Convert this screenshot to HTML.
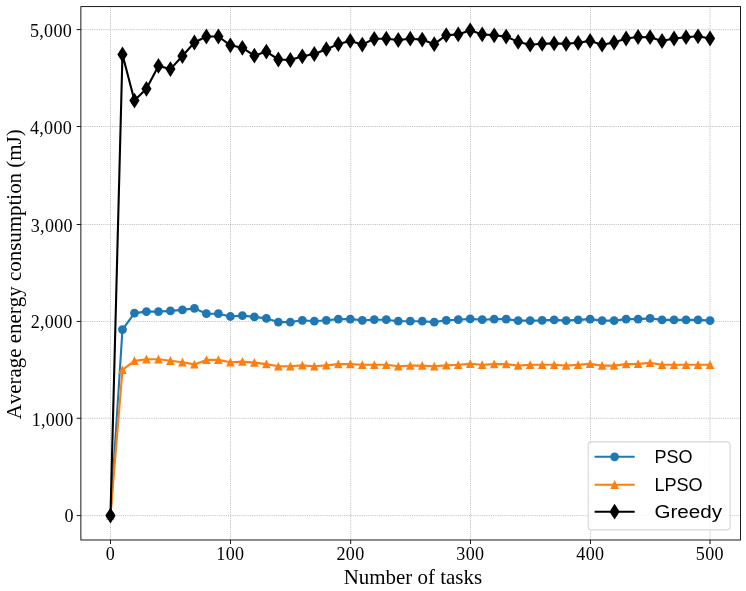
<!DOCTYPE html>
<html><head><meta charset="utf-8"><title>Average energy consumption</title>
<style>html,body{margin:0;padding:0;background:#fff}body{width:746px;height:591px;overflow:hidden;font-family:"Liberation Sans",sans-serif}svg{display:block}svg{will-change:transform}svg text{filter:grayscale(1)}</style>
</head><body>
<svg width="746" height="591" viewBox="0 0 746 591">
<rect width="746" height="591" fill="#fff"/>
<path d="M110.50 6.6V539.98M230.50 6.6V539.98M350.70 6.6V539.98M470.50 6.6V539.98M590.50 6.6V539.98M710.00 6.6V539.98M80.88 515.60H740.45M80.88 418.25H740.45M80.88 321.45H740.45M80.88 224.50H740.45M80.88 126.50H740.45M80.88 29.62H740.45" fill="none" stroke="#999" stroke-width="0.75" stroke-dasharray="0.75 1.09"/>
<clipPath id="c"><rect x="80.88" y="6.6" width="659.57" height="533.38"/></clipPath>
<g clip-path="url(#c)">
<polyline points="110.47,515.60 122.46,329.60 134.45,313.10 146.44,311.60 158.44,311.60 170.43,310.90 182.42,309.90 194.41,308.40 206.40,313.70 218.39,313.70 230.38,316.50 242.37,315.60 254.37,316.90 266.36,318.40 278.35,322.10 290.34,322.10 302.33,320.30 314.32,321.20 326.31,320.30 338.30,319.10 350.30,319.10 362.29,320.30 374.28,319.70 386.27,319.70 398.26,321.20 410.25,321.20 422.24,321.20 434.24,322.10 446.23,320.30 458.22,319.70 470.21,318.90 482.20,319.70 494.19,319.10 506.18,319.10 518.17,320.60 530.17,320.60 542.16,320.40 554.15,319.90 566.14,320.60 578.13,319.90 590.12,319.10 602.11,320.60 614.10,320.60 626.10,319.10 638.09,319.10 650.08,318.40 662.07,319.90 674.06,319.90 686.05,319.90 698.04,319.90 710.04,320.60" fill="none" stroke="#1f77b4" stroke-width="2.1" stroke-linejoin="round"/>
<g fill="#1f77b4" stroke="#1f77b4" stroke-width="0"><circle cx="110.47" cy="515.60" r="4.4"/><circle cx="122.46" cy="329.60" r="4.4"/><circle cx="134.45" cy="313.10" r="4.4"/><circle cx="146.44" cy="311.60" r="4.4"/><circle cx="158.44" cy="311.60" r="4.4"/><circle cx="170.43" cy="310.90" r="4.4"/><circle cx="182.42" cy="309.90" r="4.4"/><circle cx="194.41" cy="308.40" r="4.4"/><circle cx="206.40" cy="313.70" r="4.4"/><circle cx="218.39" cy="313.70" r="4.4"/><circle cx="230.38" cy="316.50" r="4.4"/><circle cx="242.37" cy="315.60" r="4.4"/><circle cx="254.37" cy="316.90" r="4.4"/><circle cx="266.36" cy="318.40" r="4.4"/><circle cx="278.35" cy="322.10" r="4.4"/><circle cx="290.34" cy="322.10" r="4.4"/><circle cx="302.33" cy="320.30" r="4.4"/><circle cx="314.32" cy="321.20" r="4.4"/><circle cx="326.31" cy="320.30" r="4.4"/><circle cx="338.30" cy="319.10" r="4.4"/><circle cx="350.30" cy="319.10" r="4.4"/><circle cx="362.29" cy="320.30" r="4.4"/><circle cx="374.28" cy="319.70" r="4.4"/><circle cx="386.27" cy="319.70" r="4.4"/><circle cx="398.26" cy="321.20" r="4.4"/><circle cx="410.25" cy="321.20" r="4.4"/><circle cx="422.24" cy="321.20" r="4.4"/><circle cx="434.24" cy="322.10" r="4.4"/><circle cx="446.23" cy="320.30" r="4.4"/><circle cx="458.22" cy="319.70" r="4.4"/><circle cx="470.21" cy="318.90" r="4.4"/><circle cx="482.20" cy="319.70" r="4.4"/><circle cx="494.19" cy="319.10" r="4.4"/><circle cx="506.18" cy="319.10" r="4.4"/><circle cx="518.17" cy="320.60" r="4.4"/><circle cx="530.17" cy="320.60" r="4.4"/><circle cx="542.16" cy="320.40" r="4.4"/><circle cx="554.15" cy="319.90" r="4.4"/><circle cx="566.14" cy="320.60" r="4.4"/><circle cx="578.13" cy="319.90" r="4.4"/><circle cx="590.12" cy="319.10" r="4.4"/><circle cx="602.11" cy="320.60" r="4.4"/><circle cx="614.10" cy="320.60" r="4.4"/><circle cx="626.10" cy="319.10" r="4.4"/><circle cx="638.09" cy="319.10" r="4.4"/><circle cx="650.08" cy="318.40" r="4.4"/><circle cx="662.07" cy="319.90" r="4.4"/><circle cx="674.06" cy="319.90" r="4.4"/><circle cx="686.05" cy="319.90" r="4.4"/><circle cx="698.04" cy="319.90" r="4.4"/><circle cx="710.04" cy="320.60" r="4.4"/></g>
<polyline points="110.47,515.60 122.46,369.90 134.45,360.90 146.44,359.20 158.44,359.20 170.43,360.70 182.42,362.20 194.41,364.40 206.40,359.90 218.39,359.90 230.38,362.20 242.37,361.60 254.37,362.60 266.36,364.10 278.35,366.30 290.34,366.30 302.33,365.40 314.32,366.30 326.31,365.40 338.30,364.10 350.30,364.10 362.29,364.80 374.28,364.80 386.27,364.80 398.26,366.30 410.25,365.60 422.24,365.60 434.24,366.30 446.23,365.40 458.22,364.80 470.21,363.90 482.20,364.80 494.19,364.10 506.18,364.10 518.17,365.60 530.17,364.80 542.16,364.80 554.15,364.80 566.14,365.60 578.13,364.80 590.12,363.90 602.11,365.60 614.10,365.60 626.10,364.10 638.09,363.90 650.08,362.90 662.07,364.80 674.06,364.80 686.05,364.80 698.04,364.80 710.04,364.80" fill="none" stroke="#ff7f0e" stroke-width="2.1" stroke-linejoin="round"/>
<g fill="#ff7f0e" stroke="#ff7f0e" stroke-width="0" stroke-linejoin="miter"><path d="M110.47 511.00L106.17 519.80H114.77Z"/><path d="M122.46 365.30L118.16 374.10H126.76Z"/><path d="M134.45 356.30L130.15 365.10H138.75Z"/><path d="M146.44 354.60L142.14 363.40H150.74Z"/><path d="M158.44 354.60L154.14 363.40H162.74Z"/><path d="M170.43 356.10L166.13 364.90H174.73Z"/><path d="M182.42 357.60L178.12 366.40H186.72Z"/><path d="M194.41 359.80L190.11 368.60H198.71Z"/><path d="M206.40 355.30L202.10 364.10H210.70Z"/><path d="M218.39 355.30L214.09 364.10H222.69Z"/><path d="M230.38 357.60L226.08 366.40H234.68Z"/><path d="M242.37 357.00L238.07 365.80H246.67Z"/><path d="M254.37 358.00L250.07 366.80H258.67Z"/><path d="M266.36 359.50L262.06 368.30H270.66Z"/><path d="M278.35 361.70L274.05 370.50H282.65Z"/><path d="M290.34 361.70L286.04 370.50H294.64Z"/><path d="M302.33 360.80L298.03 369.60H306.63Z"/><path d="M314.32 361.70L310.02 370.50H318.62Z"/><path d="M326.31 360.80L322.01 369.60H330.61Z"/><path d="M338.30 359.50L334.00 368.30H342.60Z"/><path d="M350.30 359.50L346.00 368.30H354.60Z"/><path d="M362.29 360.20L357.99 369.00H366.59Z"/><path d="M374.28 360.20L369.98 369.00H378.58Z"/><path d="M386.27 360.20L381.97 369.00H390.57Z"/><path d="M398.26 361.70L393.96 370.50H402.56Z"/><path d="M410.25 361.00L405.95 369.80H414.55Z"/><path d="M422.24 361.00L417.94 369.80H426.54Z"/><path d="M434.24 361.70L429.94 370.50H438.54Z"/><path d="M446.23 360.80L441.93 369.60H450.53Z"/><path d="M458.22 360.20L453.92 369.00H462.52Z"/><path d="M470.21 359.30L465.91 368.10H474.51Z"/><path d="M482.20 360.20L477.90 369.00H486.50Z"/><path d="M494.19 359.50L489.89 368.30H498.49Z"/><path d="M506.18 359.50L501.88 368.30H510.48Z"/><path d="M518.17 361.00L513.87 369.80H522.47Z"/><path d="M530.17 360.20L525.87 369.00H534.47Z"/><path d="M542.16 360.20L537.86 369.00H546.46Z"/><path d="M554.15 360.20L549.85 369.00H558.45Z"/><path d="M566.14 361.00L561.84 369.80H570.44Z"/><path d="M578.13 360.20L573.83 369.00H582.43Z"/><path d="M590.12 359.30L585.82 368.10H594.42Z"/><path d="M602.11 361.00L597.81 369.80H606.41Z"/><path d="M614.10 361.00L609.80 369.80H618.40Z"/><path d="M626.10 359.50L621.80 368.30H630.40Z"/><path d="M638.09 359.30L633.79 368.10H642.39Z"/><path d="M650.08 358.30L645.78 367.10H654.38Z"/><path d="M662.07 360.20L657.77 369.00H666.37Z"/><path d="M674.06 360.20L669.76 369.00H678.36Z"/><path d="M686.05 360.20L681.75 369.00H690.35Z"/><path d="M698.04 360.20L693.74 369.00H702.34Z"/><path d="M710.04 360.20L705.74 369.00H714.34Z"/></g>
<polyline points="110.47,515.60 122.46,54.50 134.45,100.60 146.44,88.80 158.44,65.90 170.43,69.10 182.42,56.00 194.41,42.50 206.40,36.50 218.39,36.50 230.38,45.30 242.37,47.80 254.37,55.70 266.36,51.60 278.35,59.50 290.34,60.00 302.33,56.30 314.32,54.00 326.31,49.20 338.30,44.10 350.30,40.90 362.29,44.60 374.28,38.80 386.27,38.70 398.26,40.00 410.25,38.70 422.24,39.60 434.24,44.20 446.23,35.20 458.22,34.40 470.21,30.30 482.20,34.40 494.19,35.30 506.18,36.60 518.17,41.90 530.17,44.70 542.16,43.80 554.15,43.40 566.14,43.80 578.13,42.80 590.12,40.90 602.11,44.70 614.10,42.50 626.10,38.50 638.09,37.00 650.08,37.20 662.07,41.00 674.06,38.50 686.05,37.20 698.04,36.30 710.04,38.50" fill="none" stroke="#000" stroke-width="2.1" stroke-linejoin="round"/>
<g fill="#000" stroke="#000" stroke-width="0" stroke-linejoin="miter"><path d="M110.47 507.70L115.57 515.60L110.47 523.50L105.37 515.60Z"/><path d="M122.46 46.60L127.56 54.50L122.46 62.40L117.36 54.50Z"/><path d="M134.45 92.70L139.55 100.60L134.45 108.50L129.35 100.60Z"/><path d="M146.44 80.90L151.54 88.80L146.44 96.70L141.34 88.80Z"/><path d="M158.44 58.00L163.54 65.90L158.44 73.80L153.34 65.90Z"/><path d="M170.43 61.20L175.53 69.10L170.43 77.00L165.33 69.10Z"/><path d="M182.42 48.10L187.52 56.00L182.42 63.90L177.32 56.00Z"/><path d="M194.41 34.60L199.51 42.50L194.41 50.40L189.31 42.50Z"/><path d="M206.40 28.60L211.50 36.50L206.40 44.40L201.30 36.50Z"/><path d="M218.39 28.60L223.49 36.50L218.39 44.40L213.29 36.50Z"/><path d="M230.38 37.40L235.48 45.30L230.38 53.20L225.28 45.30Z"/><path d="M242.37 39.90L247.47 47.80L242.37 55.70L237.27 47.80Z"/><path d="M254.37 47.80L259.47 55.70L254.37 63.60L249.27 55.70Z"/><path d="M266.36 43.70L271.46 51.60L266.36 59.50L261.26 51.60Z"/><path d="M278.35 51.60L283.45 59.50L278.35 67.40L273.25 59.50Z"/><path d="M290.34 52.10L295.44 60.00L290.34 67.90L285.24 60.00Z"/><path d="M302.33 48.40L307.43 56.30L302.33 64.20L297.23 56.30Z"/><path d="M314.32 46.10L319.42 54.00L314.32 61.90L309.22 54.00Z"/><path d="M326.31 41.30L331.41 49.20L326.31 57.10L321.21 49.20Z"/><path d="M338.30 36.20L343.40 44.10L338.30 52.00L333.20 44.10Z"/><path d="M350.30 33.00L355.40 40.90L350.30 48.80L345.20 40.90Z"/><path d="M362.29 36.70L367.39 44.60L362.29 52.50L357.19 44.60Z"/><path d="M374.28 30.90L379.38 38.80L374.28 46.70L369.18 38.80Z"/><path d="M386.27 30.80L391.37 38.70L386.27 46.60L381.17 38.70Z"/><path d="M398.26 32.10L403.36 40.00L398.26 47.90L393.16 40.00Z"/><path d="M410.25 30.80L415.35 38.70L410.25 46.60L405.15 38.70Z"/><path d="M422.24 31.70L427.34 39.60L422.24 47.50L417.14 39.60Z"/><path d="M434.24 36.30L439.34 44.20L434.24 52.10L429.14 44.20Z"/><path d="M446.23 27.30L451.33 35.20L446.23 43.10L441.13 35.20Z"/><path d="M458.22 26.50L463.32 34.40L458.22 42.30L453.12 34.40Z"/><path d="M470.21 22.40L475.31 30.30L470.21 38.20L465.11 30.30Z"/><path d="M482.20 26.50L487.30 34.40L482.20 42.30L477.10 34.40Z"/><path d="M494.19 27.40L499.29 35.30L494.19 43.20L489.09 35.30Z"/><path d="M506.18 28.70L511.28 36.60L506.18 44.50L501.08 36.60Z"/><path d="M518.17 34.00L523.27 41.90L518.17 49.80L513.07 41.90Z"/><path d="M530.17 36.80L535.27 44.70L530.17 52.60L525.07 44.70Z"/><path d="M542.16 35.90L547.26 43.80L542.16 51.70L537.06 43.80Z"/><path d="M554.15 35.50L559.25 43.40L554.15 51.30L549.05 43.40Z"/><path d="M566.14 35.90L571.24 43.80L566.14 51.70L561.04 43.80Z"/><path d="M578.13 34.90L583.23 42.80L578.13 50.70L573.03 42.80Z"/><path d="M590.12 33.00L595.22 40.90L590.12 48.80L585.02 40.90Z"/><path d="M602.11 36.80L607.21 44.70L602.11 52.60L597.01 44.70Z"/><path d="M614.10 34.60L619.20 42.50L614.10 50.40L609.00 42.50Z"/><path d="M626.10 30.60L631.20 38.50L626.10 46.40L621.00 38.50Z"/><path d="M638.09 29.10L643.19 37.00L638.09 44.90L632.99 37.00Z"/><path d="M650.08 29.30L655.18 37.20L650.08 45.10L644.98 37.20Z"/><path d="M662.07 33.10L667.17 41.00L662.07 48.90L656.97 41.00Z"/><path d="M674.06 30.60L679.16 38.50L674.06 46.40L668.96 38.50Z"/><path d="M686.05 29.30L691.15 37.20L686.05 45.10L680.95 37.20Z"/><path d="M698.04 28.40L703.14 36.30L698.04 44.20L692.94 36.30Z"/><path d="M710.04 30.60L715.14 38.50L710.04 46.40L704.94 38.50Z"/></g>
</g>
<rect x="80.88" y="6.6" width="659.57" height="533.38" fill="none" stroke="#000" stroke-width="0.9"/>
<path d="M110.50 539.98v4.0M230.50 539.98v4.0M350.70 539.98v4.0M470.50 539.98v4.0M590.50 539.98v4.0M710.00 539.98v4.0M80.88 515.60h-4.2M80.88 418.25h-4.2M80.88 321.45h-4.2M80.88 224.50h-4.2M80.88 126.50h-4.2M80.88 29.62h-4.2" fill="none" stroke="#000" stroke-width="0.9"/>
<g style="font-family:&quot;Liberation Serif&quot;,serif;font-size:18.06px;letter-spacing:0.28px" fill="#000">
<text x="110.30" y="559.6" text-anchor="middle">0</text>
<text x="230.30" y="559.6" text-anchor="middle">100</text>
<text x="350.50" y="559.6" text-anchor="middle">200</text>
<text x="470.30" y="559.6" text-anchor="middle">300</text>
<text x="590.30" y="559.6" text-anchor="middle">400</text>
<text x="709.80" y="559.6" text-anchor="middle">500</text>
<text x="73.8" y="522.20" text-anchor="end">0</text>
<text x="73.7" y="425.87" text-anchor="end">1,000</text>
<text x="72.7" y="328.47" text-anchor="end">2,000</text>
<text x="72.8" y="231.50" text-anchor="end">3,000</text>
<text x="72.0" y="133.77" text-anchor="end">4,000</text>
<text x="72.0" y="36.62" text-anchor="end">5,000</text>
</g>
<text x="412.9" y="584" text-anchor="middle" style="font-family:&quot;Liberation Serif&quot;,serif;font-size:20.93px;font-kerning:none">Number of tasks</text>
<text transform="translate(20.6 274.3) rotate(-90)" text-anchor="middle" style="font-family:&quot;Liberation Serif&quot;,serif;font-size:20.93px;font-kerning:none">Average energy consumption (mJ)</text>
<rect x="588.2" y="441.9" width="141.9" height="88.0" rx="3.3" fill="#fff" fill-opacity="0.8" stroke="#ccc" stroke-opacity="0.8" stroke-width="1.1"/>
<path d="M594.6 456.8H634.7" stroke="#1f77b4" stroke-width="2.1"/>
<g fill="#1f77b4" stroke="#1f77b4" stroke-width="0"><circle cx="614.60" cy="456.80" r="4.4"/></g>
<text x="654.4" y="462.9" textLength="38.0" lengthAdjust="spacingAndGlyphs" style="font-family:&quot;Liberation Sans&quot;,sans-serif;font-size:18px">PSO</text>
<path d="M594.6 484.7H634.7" stroke="#ff7f0e" stroke-width="2.1"/>
<g fill="#ff7f0e" stroke="#ff7f0e" stroke-width="0"><path d="M614.60 480.10L610.30 488.90H618.90Z"/></g>
<text x="654.4" y="490.8" textLength="48.3" lengthAdjust="spacingAndGlyphs" style="font-family:&quot;Liberation Sans&quot;,sans-serif;font-size:18px">LPSO</text>
<path d="M594.6 511.7H634.7" stroke="#000" stroke-width="2.1"/>
<g fill="#000" stroke="#000" stroke-width="0"><path d="M614.60 503.80L619.70 511.70L614.60 519.60L609.50 511.70Z"/></g>
<text x="654.4" y="517.8" textLength="67.7" lengthAdjust="spacingAndGlyphs" style="font-family:&quot;Liberation Sans&quot;,sans-serif;font-size:18px">Greedy</text>
</svg>
</body></html>
